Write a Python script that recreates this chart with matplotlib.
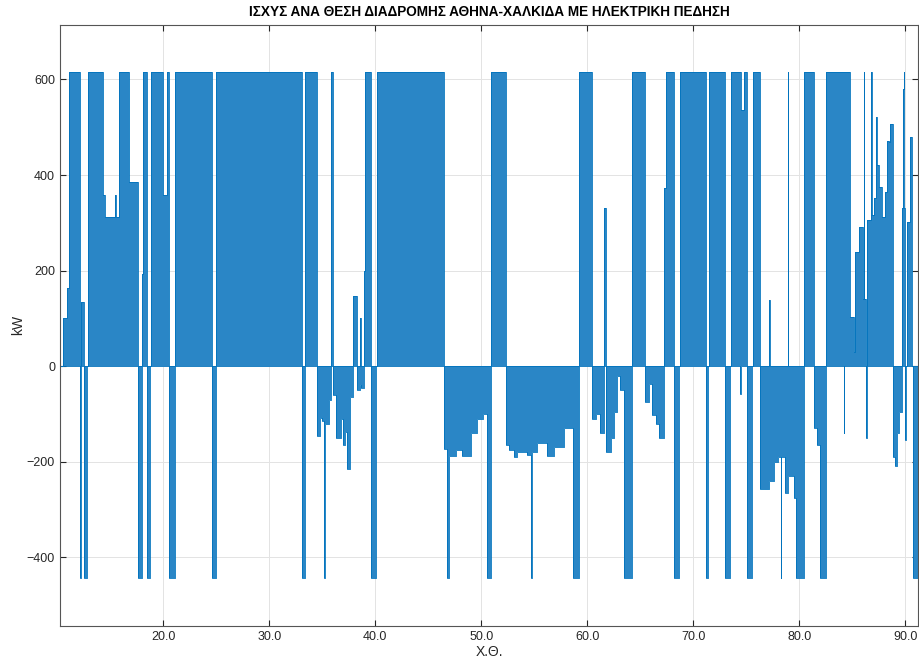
import matplotlib
matplotlib.use("Agg")
import numpy as np
import matplotlib.pyplot as plt

plt.rcParams['font.family'] = ['Liberation Sans', 'DejaVu Sans']

# power envelope per position segment (start of segment, max kW, min kW)
seg_x = [10.30, 10.50, 10.88, 11.07, 12.14, 12.24, 12.52, 12.77, 12.89,
         14.28, 14.50, 15.41, 15.55, 15.79, 16.73, 17.61, 17.99, 18.11, 18.43, 18.75, 18.81, 20.00, 20.35, 20.50,
         21.07, 24.59, 24.93, 33.08, 33.33, 34.47, 34.78, 35.00, 35.20, 35.28, 35.60, 35.86, 36.00, 36.30,
         36.77, 36.93, 37.15, 37.35, 37.65, 37.87, 38.28, 38.55, 38.62, 38.97, 39.03, 39.59, 40.06, 40.16,
         46.49, 46.74, 46.96, 47.60, 48.20, 49.00, 49.60, 50.20, 50.50, 50.94,
         52.32, 52.60, 53.07, 53.39, 54.33, 54.70, 54.76, 55.27, 56.21, 56.83, 57.77, 58.65,
         59.18, 60.44, 60.80, 61.20, 61.54, 61.79, 62.20, 62.50, 62.79, 63.10, 63.48,
         64.19, 65.45, 65.82, 66.14, 66.45, 66.80, 67.25, 67.46, 68.18, 68.65, 68.71, 71.16, 71.41, 71.48, 72.95, 73.45,
         73.52, 74.40, 74.46, 74.75, 75.09, 75.56, 75.65, 76.28, 77.13, 77.20, 77.60, 78.00, 78.23, 78.30, 78.70, 78.89, 78.95, 79.48, 79.70, 80.42,
         80.49, 81.43, 81.65, 81.99, 82.53, 84.19, 84.25,
         84.76, 85.13, 85.23, 85.60, 85.98, 86.08, 86.14, 86.30, 86.39, 86.80, 86.86, 87.02, 87.20, 87.30, 87.49, 87.80,
         88.12, 88.30, 88.43, 88.60, 88.81, 89.05, 89.20, 89.43, 89.69, 89.80, 89.87, 89.92, 90.00, 90.05, 90.16, 90.45, 90.65, 90.69]
x_end = 91.19

p_max = [0, 101, 163, 615, 0, 135, 0, 0, 615,
         359, 312, 359, 312, 615, 385, 0, 194, 615, 0, 0, 615, 359, 615, 0,
         615, 0, 615, 0, 615, 0, 0, 0, 0, 0, 0, 615, 0, 0,
         0, 0, 0, 0, 0, 146, 0, 100, 0, 200, 615, 0, 0, 615,
         0, 0, 0, 0, 0, 0, 0, 0, 0, 615,
         0, 0, 0, 0, 0, 0, 0, 0, 0, 0, 0, 0,
         615, 0, 0, 0, 332, 0, 0, 0, 0, 0, 0,
         615, 0, 0, 0, 0, 0, 372, 615, 0, 0, 615, 0, 0, 615, 0, 0,
         615, 615, 536, 615, 0, 0, 615, 0, 138, 0, 0, 0, 0, 0, 0, 615, 0, 0, 0, 0,
         615, 0, 0, 0, 615, 615, 615,
         103, 30, 238, 291, 140, 615, 140, 0, 305, 615, 316, 351, 521, 420, 376, 312,
         365, 471, 470, 507, 0, 0, 0, 0, 332, 580, 615, 332, 0, 0, 301, 480, 0, 0]

p_min = [0, 0, 0, 0, -443, 0, -443, 0, 0,
         0, 0, 0, 0, 0, 0, -443, 0, 0, -443, 0, 0, 0, 0, -443,
         0, -443, 0, -443, 0, -146, -108, -115, -443, -120, -70, 0, -60, -150,
         -110, -165, -137, -215, -65, 0, -50, -40, -45, 0, 0, -443, 0, 0,
         -173, -443, -187, -175, -187, -140, -110, -100, -443, 0,
         -165, -175, -190, -180, -185, -443, -180, -160, -188, -170, -130, -443,
         0, -110, -100, -140, 0, -180, -150, -95, -20, -50, -443,
         0, -75, -37, -102, -120, -150, 0, 0, -443, 0, 0, -443, 0, 0, -443, 0,
         0, -58, 0, 0, -443, 0, 0, -256, -240, -240, -200, -190, -443, -190, -265, -230, -230, -275, -443, 0,
         0, -130, -165, -443, 0, -140, 0,
         0, 0, 0, 0, 0, 0, 0, -150, 0, 0, 0, 0, 0, 0, 0, 0,
         0, 0, 0, 0, -190, -208, -140, -95, 0, 0, 0, 0, -155, 0, 0, 0, 0, -443]

x = np.array(seg_x + [x_end])
hi = np.array(p_max + [p_max[-1]])
lo = np.array(p_min + [p_min[-1]])

fig = plt.figure(figsize=(9.2, 6.68), dpi=100)
ax = fig.add_axes([0.0652, 0.0633, 0.9326, 0.9000])

ax.fill_between(x, lo, hi, step='post', color='#2a86c6', linewidth=0)
ax.step(x, hi, where='post', color='#0072BD', lw=0.6)
ax.step(x, lo, where='post', color='#0072BD', lw=0.6)

ax.set_xlim(10.25, 91.2)
ax.set_ylim(min(p_min) - 100, max(p_max) + 100)
ax.set_xticks(np.arange(20, 91, 10))
ax.set_xticklabels(['%.1f' % t for t in np.arange(20, 91, 10)])
ax.set_yticks(np.arange(-400, 601, 200))

ax.grid(True, color='#e3e3e3', lw=0.7)
ax.set_axisbelow(True)
ax.tick_params(direction='in', length=4, top=True, right=True, labelsize=9, colors='#262626')
for s in ax.spines.values():
    s.set_color('#555555')
    s.set_linewidth(0.8)

ax.set_title('ΙΣΧΥΣ ΑΝΑ ΘΕΣΗ ΔΙΑΔΡΟΜΗΣ ΑΘΗΝΑ-ΧΑΛΚΙΔΑ ΜΕ ΗΛΕΚΤΡΙΚΗ ΠΕΔΗΣΗ',
             fontsize=9.8, fontweight='bold', family=['Liberation Sans Narrow', 'Liberation Sans'], pad=6)
ax.set_xlabel('Χ.Θ.', fontsize=10, color='#262626', labelpad=2)
ax.set_ylabel('kW', fontsize=10, color='#262626', labelpad=1)

fig.savefig('out.png', dpi=100)
